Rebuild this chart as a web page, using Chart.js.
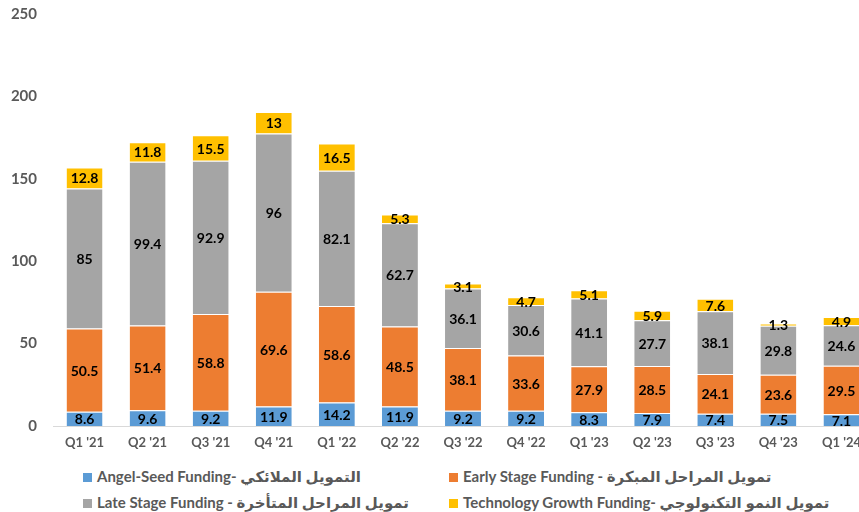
<!DOCTYPE html>
<html>
<head>
<meta charset="utf-8">
<script src="https://cdn.jsdelivr.net/npm/chart.js@4"></script>
<style>
    html, body { margin: 0; padding: 0; background: #fff; overflow: hidden; }
    #wrap { position: relative; width: 873px; height: 512px; }
    #chartBox { position: absolute; left: 0; top: -11px; width: 873px; height: 471px; }
    .legend { position: absolute; font: bold 15px Lato, "DejaVu Sans", sans-serif; color: #595959; white-space: nowrap; line-height: 16px; }
    .legend span.box { display: inline-block; width: 9px; height: 9px; margin-right: 5px; vertical-align: 0; }
</style>
</head>
<body>
<div id="wrap">
    <div id="chartBox"><canvas id="Chart1"></canvas></div>
    <div id="legendBox"></div>
</div>
<script>
var labels = ["Q1 '21", "Q2 '21", "Q3 '21", "Q4 '21", "Q1 '22", "Q2 '22", "Q3 '22", "Q4 '22", "Q1 '23", "Q2 '23", "Q3 '23", "Q4 '23", "Q1 '24"];
var angelSeed = [8.6, 9.6, 9.2, 11.9, 14.2, 11.9, 9.2, 9.2, 8.3, 7.9, 7.4, 7.5, 7.1];
var earlyStage = [50.5, 51.4, 58.8, 69.6, 58.6, 48.5, 38.1, 33.6, 27.9, 28.5, 24.1, 23.6, 29.5];
var lateStage = [85, 99.4, 92.9, 96, 82.1, 62.7, 36.1, 30.6, 41.1, 27.7, 38.1, 29.8, 24.6];
var techGrowth = [12.8, 11.8, 15.5, 13, 16.5, 5.3, 3.1, 4.7, 5.1, 5.9, 7.6, 1.3, 4.9];
var yTicks = [0, 50, 100, 150, 200, 250];

var seriesNames = [
    "Angel-Seed Funding- التمويل الملائكي",
    "Early Stage Funding -   تمويل المراحل المبكرة",
    "Late Stage Funding - تمويل المراحل المتأخرة",
    "Technology Growth Funding- تمويل النمو  التكنولوجي"
];
var seriesColors = ["#5B9BD5", "#ED7D31", "#A5A5A5", "#FFC000"];

// legend in 2 columns, built from names/colors
var legendPos = [[83, 468], [449, 468], [83, 494], [449, 494]];
var legendBox = document.getElementById("legendBox");
for (var i = 0; i < seriesNames.length; i++) {
    var d = document.createElement("div");
    d.className = "legend";
    d.style.left = legendPos[i][0] + "px";
    d.style.top = legendPos[i][1] + "px";
    d.innerHTML = '<span class="box" style="background:' + seriesColors[i] + '"></span>' + seriesNames[i];
    legendBox.appendChild(d);
}

var valueLabels = {
    id: 'valueLabels',
    afterDatasetsDraw: function (chart) {
        var ctx = chart.ctx;
        ctx.save();
        ctx.font = "bold 14px Lato, sans-serif";
        ctx.fillStyle = "#000";
        ctx.textAlign = "center";
        ctx.textBaseline = "middle";
        chart.data.datasets.forEach(function (ds, di) {
            var meta = chart.getDatasetMeta(di);
            meta.data.forEach(function (bar, idx) {
                var p = bar.getProps(['x', 'y', 'base'], true);
                ctx.fillText(String(ds.data[idx]), p.x, (p.y + p.base) / 2 + 1);
            });
        });
        ctx.restore();
    }
};

var datasets = [angelSeed, earlyStage, lateStage, techGrowth].map(function (arr, i) {
    return {
        label: seriesNames[i],
        data: arr,
        backgroundColor: seriesColors[i],
        borderColor: "#ffffff",
        borderWidth: { top: 1, bottom: 0, left: 0, right: 0 },
        borderSkipped: false,
        barPercentage: 0.57,
        categoryPercentage: 1
    };
});

var ctx1 = document.getElementById("Chart1");
var Chart1 = new Chart(ctx1, {
    type: 'bar',
    data: { labels: labels, datasets: datasets },
    plugins: [valueLabels],
    options: {
        responsive: true,
        maintainAspectRatio: false,
        animation: false,
        layout: { padding: { top: 8, right: 0, left: 0, bottom: 0 } },
        plugins: {
            legend: { display: false },
            tooltip: { enabled: false }
        },
        scales: {
            x: {
                stacked: true,
                grid: { display: false, drawTicks: false },
                border: { display: true, color: "#D9D9D9", width: 1 },
                ticks: {
                    color: "#595959",
                    font: { family: "Lato, sans-serif", size: 13, weight: "bold" },
                    padding: 9,
                    maxRotation: 0
                },
                afterFit: function (scale) { scale.height = 34; }
            },
            y: {
                stacked: true,
                min: 0,
                max: 250,
                grid: { display: false, drawTicks: false },
                border: { display: false },
                afterBuildTicks: function (scale) {
                    scale.ticks = yTicks.map(function (v) { return { value: v }; });
                },
                ticks: {
                    color: "#595959",
                    font: { family: "Lato, sans-serif", size: 15, weight: "bold" },
                    padding: 16
                },
                afterFit: function (scale) { scale.width = 53; }
            }
        }
    }
});
</script>
</body>
</html>
